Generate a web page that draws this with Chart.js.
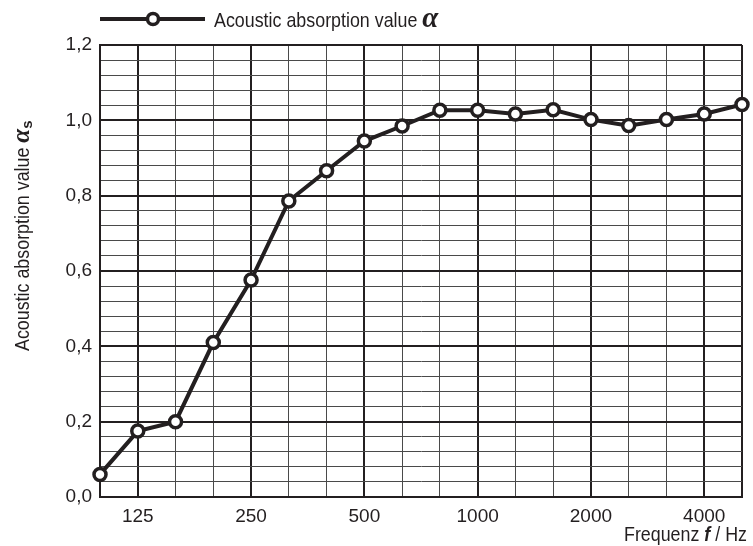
<!DOCTYPE html>
<html>
<head>
<meta charset="utf-8">
<script src="https://cdn.jsdelivr.net/npm/chart.js@4/dist/chart.umd.min.js"></script>
<style>
  body { margin: 0; background: #fff; }
</style>
</head>
<body>
<canvas id="absChart" width="753" height="546"></canvas>
<script>
// third-octave band centre frequencies (Hz)
const freqs = ["100", "125", "160", "200", "250", "315", "400", "500", "630",
    "800", "1000", "1250", "1600", "2000", "2500", "3150", "4000", "5000"];
// octave bands that carry a tick label
const octaveLabels = ["125", "250", "500", "1000", "2000", "4000"];
// measured absorption coefficient
const alphaValues = [0.06, 0.175, 0.20, 0.41, 0.576, 0.786, 0.866, 0.945, 0.985,
    1.027, 1.027, 1.017, 1.028, 1.002, 0.986, 1.002, 1.017, 1.042];

const FONT = "'Liberation Sans', Arial, sans-serif";
const SERIF = "'Liberation Serif', 'DejaVu Serif', serif";
const INK = "#231f20";
const NARROW = 0.85; // squeeze factor to mimic a condensed face

function isMajorY(v) {
    const r = v / 0.2;
    return Math.abs(r - Math.round(r)) < 1e-6;
}

// measure / draw a run of text pieces with different fonts
function richWidth(ctx, parts) {
    let w = 0;
    parts.forEach(p => {
        ctx.font = p.font;
        w += ctx.measureText(p.text).width * (p.sx || 1);
    });
    return w;
}
function drawRich(ctx, parts, x, y) {
    parts.forEach(p => {
        ctx.font = p.font;
        const sx = p.sx || 1;
        ctx.save();
        ctx.translate(x, y + (p.dy || 0));
        ctx.scale(sx, 1);
        ctx.fillText(p.text, 0, 0);
        ctx.restore();
        x += ctx.measureText(p.text).width * sx;
    });
}

// draws legend and axis titles with mixed fonts (alpha symbol)
const textPlugin = {
    id: "textPlugin",
    afterDraw(chart) {
        const ctx = chart.ctx;
        const area = chart.chartArea;
        const plain = "21px " + FONT;
        ctx.save();
        ctx.textBaseline = "alphabetic";
        ctx.textAlign = "left";

        // legend
        const ly = 19;
        ctx.strokeStyle = INK;
        ctx.lineWidth = 4;
        ctx.beginPath();
        ctx.moveTo(area.left, ly);
        ctx.lineTo(area.left + 105, ly);
        ctx.stroke();
        ctx.beginPath();
        ctx.arc(area.left + 53, ly, 5.5, 0, Math.PI * 2);
        ctx.fillStyle = "#fff";
        ctx.fill();
        ctx.lineWidth = 3.5;
        ctx.stroke();
        ctx.fillStyle = INK;
        drawRich(ctx, [
            { text: "Acoustic absorption value ", font: plain, sx: NARROW },
            { text: "\u03b1", font: "bold italic 29px " + SERIF }
        ], area.left + 114, ly + 8);

        // y axis title
        ctx.save();
        ctx.translate(29, 351);
        ctx.rotate(-Math.PI / 2);
        drawRich(ctx, [
            { text: "Acoustic absorption value ", font: plain, sx: NARROW },
            { text: "\u03b1", font: "bold italic 25px " + SERIF },
            { text: "s", font: "bold 15px " + FONT, dy: 3 }
        ], 0, 0);
        ctx.restore();

        // x axis title, right aligned
        const parts = [
            { text: "Frequenz ", font: plain, sx: NARROW },
            { text: "f", font: "bold italic 21px " + FONT, sx: NARROW },
            { text: " / Hz", font: plain, sx: NARROW }
        ];
        drawRich(ctx, parts, area.right + 5 - richWidth(ctx, parts), 541);
        ctx.restore();
    }
};

const ctx = document.getElementById("absChart").getContext("2d");
new Chart(ctx, {
    type: "line",
    data: {
        labels: freqs,
        datasets: [{
            label: "Acoustic absorption value \u03b1",
            data: alphaValues,
            borderColor: INK,
            borderWidth: 4,
            pointRadius: 6,
            pointHoverRadius: 6,
            pointBackgroundColor: "#fff",
            pointBorderColor: INK,
            pointBorderWidth: 3.5,
            tension: 0,
            clip: false
        }]
    },
    options: {
        responsive: false,
        animation: false,
        layout: { padding: { top: 45, right: 11, left: 0, bottom: 0 } },
        plugins: {
            legend: { display: false },
            tooltip: { enabled: false }
        },
        scales: {
            x: {
                type: "category",
                offset: false,
                afterFit: s => { s.height = 49; },
                border: { display: true, color: INK, width: 2 },
                grid: {
                    drawTicks: false,
                    color: c => (octaveLabels.includes(freqs[c.index]) || c.index === freqs.length - 1) ? INK : "#4a4a4a",
                    lineWidth: c => (octaveLabels.includes(freqs[c.index]) || c.index === freqs.length - 1) ? 2 : 1
                },
                ticks: {
                    autoSkip: false,
                    maxRotation: 0,
                    padding: 8,
                    color: INK,
                    font: { family: FONT, size: 19 },
                    callback: (v, i) => octaveLabels.includes(freqs[i]) ? freqs[i] : ""
                }
            },
            y: {
                min: 0,
                max: 1.2,
                afterFit: s => { s.width = 100; },
                border: { display: true, color: INK, width: 2 },
                grid: {
                    drawTicks: false,
                    color: c => isMajorY(c.tick.value) ? INK : "#4a4a4a",
                    lineWidth: c => isMajorY(c.tick.value) ? 2 : 1
                },
                ticks: {
                    stepSize: 0.04,
                    maxTicksLimit: 100,
                    autoSkip: false,
                    padding: 8,
                    color: INK,
                    font: { family: FONT, size: 19 },
                    callback: v => isMajorY(v) ? v.toFixed(1).replace(".", ",") : ""
                }
            }
        }
    },
    plugins: [textPlugin]
});
</script>
</body>
</html>
